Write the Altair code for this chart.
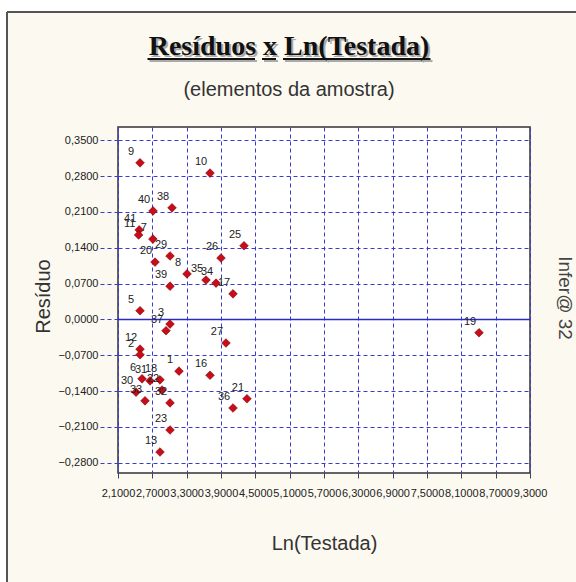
import altair as alt
import pandas as pd

# Residuals of the sample elements against Ln(Testada)
point_ids = ["9", "10", "40", "38", "41", "11", "7", "29", "20", "8",
             "26", "25", "35", "34", "17", "39", "5", "3", "37", "27",
             "12", "2", "1", "16", "6", "31", "18", "30", "22", "33",
             "32", "21", "36", "23", "13", "19"]
ln_testada = [2.485, 3.708, 2.712, 3.044, 2.470, 2.460, 2.710, 3.009, 2.747, 3.306,
              3.900, 4.302, 3.638, 3.813, 4.110, 3.009, 2.485, 3.009, 2.939, 3.987,
              2.485, 2.485, 3.166, 3.708, 2.520, 2.660, 2.834, 2.415, 2.869, 2.572,
              3.009, 4.354, 4.110, 3.009, 2.834, 8.409]
residuo = [0.306, 0.286, 0.212, 0.218, 0.175, 0.165, 0.157, 0.124, 0.112, 0.089,
           0.120, 0.144, 0.077, 0.071, 0.050, 0.065, 0.017, -0.009, -0.022, -0.046,
           -0.058, -0.069, -0.101, -0.109, -0.116, -0.120, -0.118, -0.142, -0.138, -0.159,
           -0.163, -0.155, -0.173, -0.216, -0.259, -0.026]

x_ticks = [2.1, 2.7, 3.3, 3.9, 4.5, 5.1, 5.7, 6.3, 6.9, 7.5, 8.1, 8.7, 9.3]
y_ticks = [0.35, 0.28, 0.21, 0.14, 0.07, 0.0, -0.07, -0.14, -0.21, -0.28]

W, H = 412, 346
GRID_BLUE = "#3a3ad0"
CREAM = "#fcf9f0"

df = pd.DataFrame({"id": point_ids, "x": ln_testada, "y": residuo})

comma_fmt = "replace(format(datum.value, '.4f'), '.', ',')"

x_enc = alt.X(
    "x:Q",
    scale=alt.Scale(domain=[2.1, 9.3], nice=False, zero=False),
    axis=alt.Axis(
        values=x_ticks, tickCount=13, labelExpr=comma_fmt, labelOverlap=False,
        labelFlush=False, labelBound=False,
        labelFontSize=11, labelColor="#222", labelFont="Liberation Sans",
        labelPadding=9, tickSize=5, tickColor="#444", domain=False,
        grid=True, gridColor=GRID_BLUE, gridDash=[4, 3], gridWidth=1,
        title="Ln(Testada)", titleFontSize=20, titleFontWeight="normal",
        titleFont="Liberation Sans", titleColor="#333",
        titleX=W / 2, titleY=70, titleAlign="center", titleBaseline="middle",
    ),
)
y_enc = alt.Y(
    "y:Q",
    scale=alt.Scale(domain=[-0.300, 0.376], nice=False, zero=False),
    axis=alt.Axis(
        values=y_ticks, tickCount=10, labelExpr=comma_fmt, labelOverlap=False,
        labelFlush=False, labelBound=False,
        labelFontSize=11, labelColor="#222", labelFont="Liberation Sans",
        labelPadding=2, tickSize=18, tickColor=GRID_BLUE, tickDash=[4, 3],
        domain=False,
        grid=True, gridColor=GRID_BLUE, gridDash=[4, 3], gridWidth=1,
        title="Resíduo", titleFontSize=20, titleFontWeight="normal",
        titleFont="Liberation Sans", titleColor="#333",
        titleX=-75, titleY=H / 2 - 4, titleAlign="center",
        titleBaseline="middle", titleAngle=270,
    ),
)

base = alt.Chart(df)

points = base.mark_point(
    shape="diamond", filled=True, size=75, color="#c80d18",
    stroke="#7a0008", strokeWidth=0.6, opacity=1,
).encode(x=x_enc, y=y_enc)

labels = base.mark_text(
    fontSize=11, font="Liberation Sans", color="#222",
    dx=-9, dy=-11, align="center", baseline="middle",
).encode(x=x_enc, y=y_enc, text="id:N")

zero_line = alt.Chart(pd.DataFrame({"y": [0.0]})).mark_rule(
    color="#2a2acc", strokeWidth=1.5
).encode(y=y_enc)

# Page decoration: white margin and the grey border of the panel
deco = alt.Chart(pd.DataFrame({"k": [0]}))
margin_left = deco.mark_rect(color="white").encode(
    x=alt.value(-118), x2=alt.value(-111), y=alt.value(-127), y2=alt.value(455))
margin_top = deco.mark_rect(color="white").encode(
    x=alt.value(-118), x2=alt.value(458), y=alt.value(-127), y2=alt.value(-115))
border_left = deco.mark_rule(color="#555", strokeWidth=2).encode(
    x=alt.value(-111), y=alt.value(-115), y2=alt.value(455))
border_top = deco.mark_rule(color="#555", strokeWidth=2).encode(
    x=alt.value(-111), x2=alt.value(458), y=alt.value(-115))

# Title with its drop shadow and word underlines
title_shadow = deco.mark_text(
    text="Resíduos x Ln(Testada)", font="Liberation Serif", fontSize=28,
    fontWeight="bold", color="#aaaaaa", align="center", baseline="alphabetic",
).encode(x=alt.value(173), y=alt.value(-70))
title = deco.mark_text(
    text="Resíduos x Ln(Testada)", font="Liberation Serif", fontSize=28,
    fontWeight="bold", color="#111", align="center", baseline="alphabetic",
).encode(x=alt.value(171), y=alt.value(-72))
underline_specs = [(29.5, 137.0), (144.0, 158.0), (165.0, 312.5)]
underlines = [
    deco.mark_rule(color="#111", strokeWidth=2).encode(
        x=alt.value(a), x2=alt.value(b), y=alt.value(-68))
    for a, b in underline_specs
]
underline_shadows = [
    deco.mark_rule(color="#aaaaaa", strokeWidth=2).encode(
        x=alt.value(a + 2), x2=alt.value(b + 2), y=alt.value(-66))
    for a, b in underline_specs
]
subtitle = deco.mark_text(
    text="(elementos da amostra)", font="Liberation Sans", fontSize=20,
    color="#333", align="center", baseline="middle",
).encode(x=alt.value(171), y=alt.value(-37))
brand = deco.mark_text(
    text="Infer@ 32", font="Liberation Sans", fontSize=19, color="#444",
    align="center", baseline="middle", angle=90,
).encode(x=alt.value(447), y=alt.value(171))

chart = alt.layer(
    margin_left, margin_top, border_left, border_top,
    *underline_shadows, title_shadow, *underlines, title, subtitle, brand,
    zero_line, points, labels,
).properties(
    width=W, height=H,
    autosize=alt.AutoSizeParams(type="none"),
    padding={"left": 118, "top": 127, "right": 46, "bottom": 109},
    background=CREAM,
).configure_view(
    stroke="#333", strokeWidth=1.5, fill="white",
)

chart.save("out.html", embed_options={"renderer": "svg", "actions": False})
